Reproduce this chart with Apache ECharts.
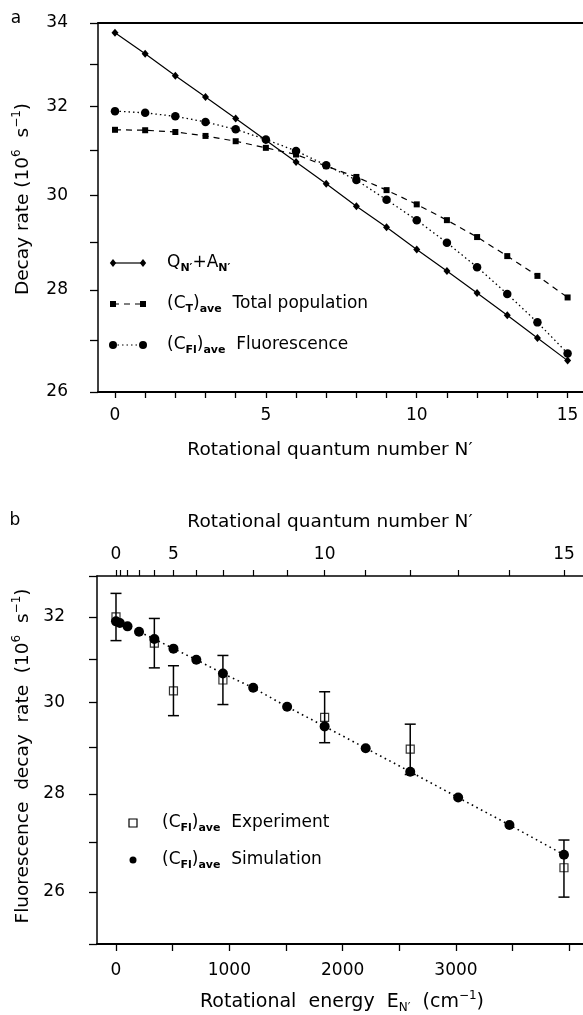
<!DOCTYPE html>
<html>
<head>
<meta charset="utf-8">
<script src="https://cdn.jsdelivr.net/npm/echarts@6/dist/echarts.min.js"></script>
<style>
  html, body { margin: 0; padding: 0; background: #fff; }
  #chart { width: 583px; height: 1015px; }
</style>
</head>
<body>
<div id="chart"></div>
<script>
// ---- Panel a: decay rates vs rotational quantum number N' ----
const rotN = [0, 1, 2, 3, 4, 5, 6, 7, 8, 9, 10, 11, 12, 13, 14, 15];
const quenchPlusRad = [33.76, 33.25, 32.72, 32.22, 31.72, 31.22, 30.73, 30.25, 29.76, 29.31, 28.84, 28.39, 27.94, 27.49, 27.04, 26.60];
const totalPopAve = [31.46, 31.45, 31.41, 31.32, 31.20, 31.05, 30.90, 30.64, 30.40, 30.11, 29.80, 29.46, 29.10, 28.70, 28.29, 27.85];
const fluorAve = [31.89, 31.85, 31.77, 31.64, 31.47, 31.24, 30.98, 30.66, 30.33, 29.90, 29.46, 28.98, 28.47, 27.92, 27.35, 26.74];

// ---- Panel b: fluorescence decay rate vs rotational energy ----
// Rotational level energies E_N' (cm^-1) for N' = 0..15
const levelEnergy = [0, 33.9, 101.7, 203.2, 338.4, 507.0, 708.7, 943.4, 1210.5, 1509.9, 1840.9, 2203.2, 2596.2, 3019.1, 3471.6, 3952.6];
// Measured levels and rates with their error limits
const expN = [0, 4, 5, 7, 10, 12, 15];
const expRate = [32.00, 31.37, 30.26, 30.51, 29.66, 28.96, 26.48];
const expLow = [31.43, 30.79, 29.70, 29.95, 29.10, 28.41, 25.90];
const expHigh = [32.57, 31.96, 30.84, 31.08, 30.24, 29.51, 27.04];

// ---- Tick values ----
const yTicksA = [26, 27, 28, 29, 30, 31, 32, 33, 34];
const yLabelsA = [26, 28, 30, 32, 34];
const xTicksA = rotN;
const xLabelsA = [0, 5, 10, 15];
const yTicksB = [25, 26, 27, 28, 29, 30, 31, 32, 33];
const yLabelsB = [26, 28, 30, 32];
const eTicks = [0, 500, 1000, 1500, 2000, 2500, 3000, 3500, 4000];
const eLabels = [0, 1000, 2000, 3000];
const nLabels = [0, 5, 10, 15];

const FONT = 'DejaVu Sans';
const INK = '#000';

const chart = echarts.init(document.getElementById('chart'), null, { renderer: 'canvas' });

function plain(v) { return String(Math.round(v)); }

function baseAxis(extra) {
  return Object.assign({
    splitLine: { show: false },
    axisLine: { show: true, onZero: false, lineStyle: { color: INK, width: 1.5 } },
    axisTick: { show: true, inside: false, length: 7, lineStyle: { color: INK, width: 1.3 } },
    axisLabel: { color: INK, fontFamily: FONT, fontSize: 17 }
  }, extra);
}

function richTitle(size) {
  return {
    t: { fontFamily: FONT, fontSize: size, color: INK, lineHeight: 24 },
    sup: { fontFamily: FONT, fontSize: 12, color: INK, lineHeight: 12, verticalAlign: 'top' },
    sub: { fontFamily: FONT, fontSize: 12, color: INK, lineHeight: 12, verticalAlign: 'bottom' }
  };
}
const richLegend = {
  t: { fontFamily: FONT, fontSize: 17, color: INK, lineHeight: 22 },
  s: { fontFamily: FONT, fontSize: 11, fontWeight: 'bold', color: INK, lineHeight: 11, verticalAlign: 'bottom' }
};

function label(x, y, text, rich, size, opts) {
  return Object.assign({
    type: 'text', x: x, y: y, silent: true,
    style: {
      text: text, rich: rich, fill: INK,
      font: size + 'px "' + FONT + '"',
      align: 'center', verticalAlign: 'middle',
      textAlign: 'center', textVerticalAlign: 'middle'
    }
  }, opts || {});
}
function legendText(x, y, text) {
  return {
    type: 'text', x: x, y: y, silent: true,
    style: {
      text: text, rich: richLegend, fill: INK,
      font: '17px "' + FONT + '"',
      align: 'left', verticalAlign: 'middle',
      textAlign: 'left', textVerticalAlign: 'middle'
    }
  };
}
function seg(x1, x2, y, dash) {
  return { type: 'line', silent: true, shape: { x1: x1, y1: y, x2: x2, y2: y },
    style: { stroke: INK, lineWidth: 1.2, lineDash: dash || null } };
}
function diamond(cx, cy, r) {
  return { type: 'polygon', silent: true, shape: { points: [[cx, cy - r], [cx + r * 0.8, cy], [cx, cy + r], [cx - r * 0.8, cy]] }, style: { fill: INK } };
}
function square(cx, cy, s, open) {
  return { type: 'rect', silent: true, shape: { x: cx - s / 2, y: cy - s / 2, width: s, height: s },
    style: open ? { fill: null, stroke: INK, lineWidth: 1.2 } : { fill: INK } };
}
function dot(cx, cy, r) {
  return { type: 'circle', silent: true, shape: { cx: cx, cy: cy, r: r }, style: { fill: INK } };
}

const LA = [263, 304, 345];
const legendIconX = [113, 143];
const legendTextX = 167;

const option = {
  animation: false,
  backgroundColor: '#fff',
  grid: [
    { left: 98, top: 23, width: 485, height: 369, outerBoundsMode: 'none', containLabel: false },
    { left: 97, top: 576, width: 486, height: 368, outerBoundsMode: 'none', containLabel: false }
  ],
  xAxis: [
    baseAxis({
      type: 'value', gridIndex: 0, position: 'bottom', min: -0.563, max: 15.51,
      axisLine: { show: true, onZero: false, lineStyle: { color: INK, width: 2 } },
      axisTick: { show: true, inside: false, length: 6, customValues: xTicksA, lineStyle: { color: INK, width: 1.3 } },
      axisLabel: { color: INK, fontFamily: FONT, fontSize: 17, margin: 15, customValues: xLabelsA, formatter: plain }
    }),
    baseAxis({
      type: 'value', gridIndex: 0, position: 'top', min: -0.563, max: 15.51,
      axisLine: { show: true, onZero: false, lineStyle: { color: INK, width: 2 } },
      axisTick: { show: false }, axisLabel: { show: false }
    }),
    baseAxis({
      type: 'value', gridIndex: 1, position: 'bottom', min: -167.6, max: 4120.6,
      axisLine: { show: true, onZero: false, lineStyle: { color: INK, width: 2 } },
      axisTick: { show: true, inside: false, length: 7, customValues: eTicks, lineStyle: { color: INK, width: 1.3 } },
      axisLabel: { color: INK, fontFamily: FONT, fontSize: 17, margin: 18, customValues: eLabels, formatter: plain }
    }),
    baseAxis({
      type: 'value', gridIndex: 1, position: 'top', min: -167.6, max: 4120.6,
      axisLine: { show: true, onZero: false, lineStyle: { color: INK, width: 1.6 } },
      axisTick: { show: true, inside: false, length: 6, customValues: levelEnergy, lineStyle: { color: INK, width: 1.2 } },
      axisLabel: {
        color: INK, fontFamily: FONT, fontSize: 17, margin: 13,
        customValues: nLabels.map(function (n) { return levelEnergy[n]; }),
        formatter: function (v) {
          for (let i = 0; i < levelEnergy.length; i++) {
            if (Math.abs(levelEnergy[i] - v) < 1e-6) return String(rotN[i]);
          }
          return '';
        }
      }
    })
  ],
  yAxis: [
    baseAxis({
      type: 'log', gridIndex: 0, min: 26, max: 34,
      axisTick: { show: true, inside: false, length: 8, customValues: yTicksA, lineStyle: { color: INK, width: 1.3 } },
      axisLabel: { color: INK, fontFamily: FONT, fontSize: 17, margin: 30, customValues: yLabelsA, formatter: plain }
    }),
    baseAxis({
      type: 'log', gridIndex: 1, min: 25, max: 33,
      axisTick: { show: true, inside: false, length: 8, customValues: yTicksB, lineStyle: { color: INK, width: 1.3 } },
      axisLabel: { color: INK, fontFamily: FONT, fontSize: 17, margin: 32, customValues: yLabelsB, formatter: plain }
    })
  ],
  series: [
    {
      name: 'Q+A', type: 'line', xAxisIndex: 0, yAxisIndex: 0,
      data: rotN.map(function (n, i) { return [n, quenchPlusRad[i]]; }),
      symbol: 'diamond', symbolSize: [7, 8],
      itemStyle: { color: INK }, lineStyle: { color: INK, width: 1.2, type: 'solid' },
      silent: true, z: 3
    },
    {
      name: 'CT', type: 'line', xAxisIndex: 0, yAxisIndex: 0,
      data: rotN.map(function (n, i) { return [n, totalPopAve[i]]; }),
      symbol: 'rect', symbolSize: 6,
      itemStyle: { color: INK }, lineStyle: { color: INK, width: 1.2, type: [6, 5] },
      silent: true, z: 3
    },
    {
      name: 'CFl', type: 'line', xAxisIndex: 0, yAxisIndex: 0,
      data: rotN.map(function (n, i) { return [n, fluorAve[i]]; }),
      symbol: 'circle', symbolSize: 8.5,
      itemStyle: { color: INK }, lineStyle: { color: INK, width: 1.3, type: [1.5, 3] },
      silent: true, z: 3
    },
    {
      name: 'Experiment error', type: 'custom', xAxisIndex: 2, yAxisIndex: 1,
      data: expN.map(function (n, i) { return [levelEnergy[n], expLow[i], expHigh[i]]; }),
      encode: { x: 0, y: [1, 2] },
      renderItem: function (params, api) {
        const e = api.value(0);
        const lo = api.coord([e, api.value(1)]);
        const hi = api.coord([e, api.value(2)]);
        const w = 5.5;
        const st = { stroke: INK, lineWidth: 1.5 };
        return {
          type: 'group',
          children: [
            { type: 'line', shape: { x1: lo[0], y1: lo[1], x2: hi[0], y2: hi[1] }, style: st },
            { type: 'line', shape: { x1: lo[0] - w, y1: lo[1], x2: lo[0] + w, y2: lo[1] }, style: st },
            { type: 'line', shape: { x1: hi[0] - w, y1: hi[1], x2: hi[0] + w, y2: hi[1] }, style: st }
          ]
        };
      },
      silent: true, z: 2
    },
    {
      name: 'Experiment', type: 'scatter', xAxisIndex: 2, yAxisIndex: 1,
      data: expN.map(function (n, i) { return [levelEnergy[n], expRate[i]]; }),
      symbol: 'rect', symbolSize: 8,
      itemStyle: { color: 'rgba(0,0,0,0)', borderColor: INK, borderWidth: 1.2 },
      silent: true, z: 3
    },
    {
      name: 'Simulation', type: 'line', xAxisIndex: 2, yAxisIndex: 1,
      data: levelEnergy.map(function (e, i) { return [e, fluorAve[i]]; }),
      symbol: 'circle', symbolSize: 10,
      itemStyle: { color: INK }, lineStyle: { color: INK, width: 1.6, type: [1.6, 3.6] },
      silent: true, z: 4
    }
  ],
  graphic: [
    // panel letters
    label(16, 19, 'a', null, 17),
    label(15, 521, 'b', null, 17),
    // axis titles
    label(23, 199, '{t|Decay rate (10}{sup|6}{t|  s}{sup|−1}{t|)}', richTitle(18.5), 18.5, { rotation: Math.PI / 2 }),
    label(330, 450, 'Rotational quantum number N\u2032', null, 18.5),
    label(330, 522, 'Rotational quantum number N\u2032', null, 18.5),
    label(23, 756, '{t|Fluorescence  decay  rate  (10}{sup|6}{t|  s}{sup|−1}{t|)}', richTitle(18.5), 18.5, { rotation: Math.PI / 2 }),
    label(342, 1002, '{t|Rotational  energy  E}{sub|N\u2032}{t|  (cm}{sup|−1}{t|)}', richTitle(19), 19),
    // legend, panel a
    seg(legendIconX[0], legendIconX[1], LA[0]),
    diamond(legendIconX[0], LA[0], 4), diamond(legendIconX[1], LA[0], 4),
    legendText(legendTextX, LA[0], '{t|Q}{s|N\u2032}{t|+A}{s|N\u2032}'),
    seg(legendIconX[0], legendIconX[1], LA[1], [6, 5]),
    square(legendIconX[0], LA[1], 6), square(legendIconX[1], LA[1], 6),
    legendText(legendTextX, LA[1], '{t|(C}{s|T}{t|)}{s|ave}{t|  Total population}'),
    seg(legendIconX[0], legendIconX[1], LA[2], [1.5, 3]),
    dot(legendIconX[0], LA[2], 4), dot(legendIconX[1], LA[2], 4),
    legendText(legendTextX, LA[2], '{t|(C}{s|Fl}{t|)}{s|ave}{t|  Fluorescence}'),
    // legend, panel b
    square(133, 823, 8, true),
    legendText(162, 823, '{t|(C}{s|Fl}{t|)}{s|ave}{t|  Experiment}'),
    dot(133, 860, 3.5),
    legendText(162, 860, '{t|(C}{s|Fl}{t|)}{s|ave}{t|  Simulation}')
  ]
};

chart.setOption(option);
</script>
</body>
</html>
